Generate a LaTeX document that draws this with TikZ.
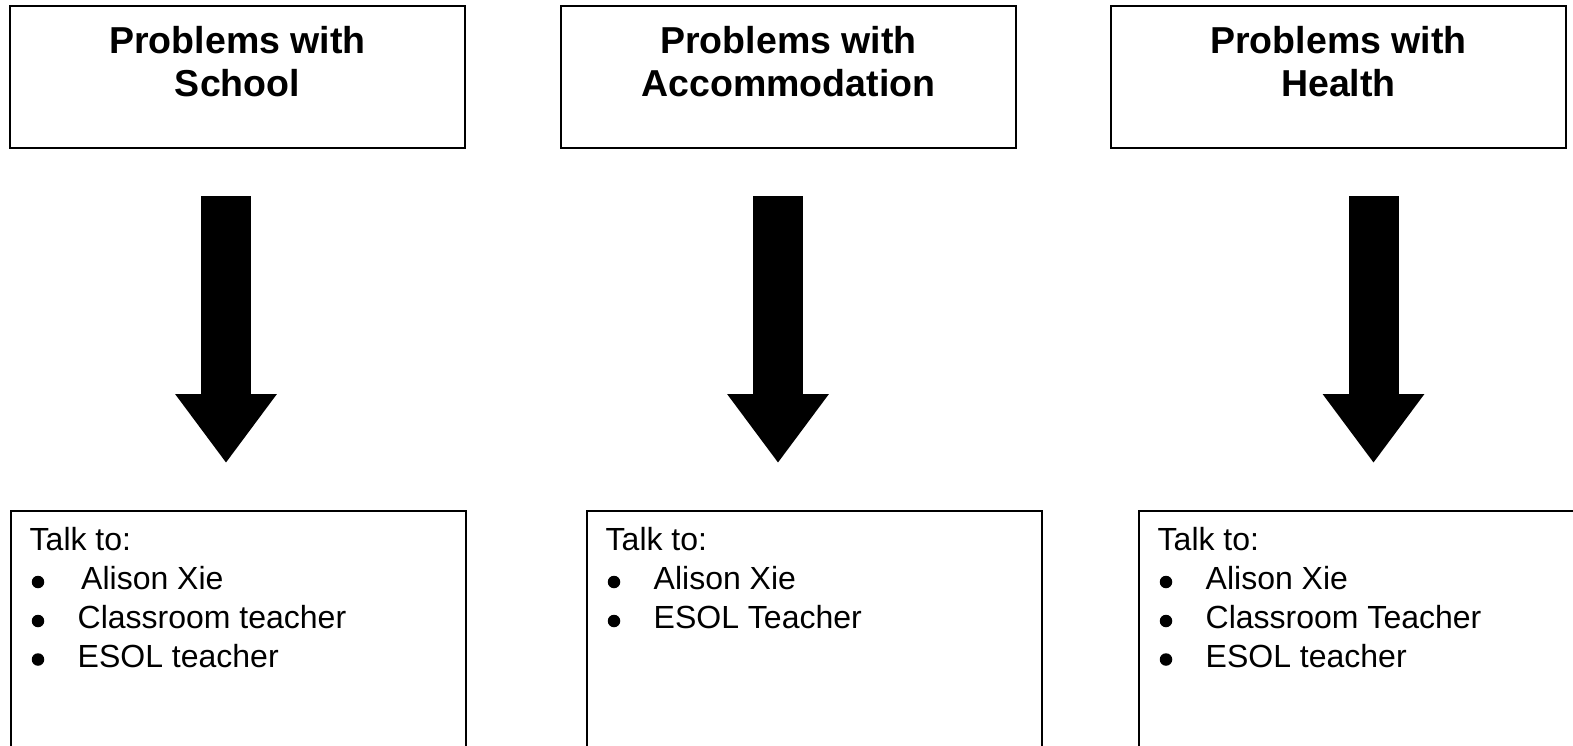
\documentclass[tikz,border=0pt]{standalone}
\usepackage{fontspec}
\setmainfont{Liberation Sans}
\usetikzlibrary{arrows.meta}
\begin{document}
\begin{tikzpicture}[x=1pt,y=-1pt,
  frame/.style={draw=black, line width=2.4pt, rectangle, inner sep=0pt},
  headbox/.style={frame, minimum width=455pt, minimum height=142pt},
  listbox/.style={frame, anchor=north west, minimum width=455pt, minimum height=300pt},
  titletext/.style={font=\fontsize{37.5}{43}\selectfont\bfseries, align=center, inner sep=0pt, anchor=base},
  bodytext/.style={font=\fontsize{32}{38.8}\selectfont, inner sep=0pt, anchor=base west},
  dot/.style={circle, fill=black, inner sep=0pt, minimum size=12.5pt},
  bigarrow/.style={line width=50pt, -{Triangle[length=69pt,width=97pt]}}]
\useasboundingbox (0,0) rectangle (1573,745);
\clip (0,0) rectangle (1573,745);
\fill[white] (0,0) rectangle (1573,745);

% top boxes
\node[headbox] (top1) at (237.5,77) {};
\node[headbox] (top2) at (788.5,77) {};
\node[headbox] (top3) at (1338.5,77) {};
\node[titletext] (t1) at (237.5,96.5) {Problems with\\School};
\node[titletext] (t2) at (788.5,96.5) {Problems with\\Accommodation};
\node[titletext] (t3) at (1338.5,96.5) {Problems with\\Health};

% bottom boxes
\node[listbox] (bot1) at (10,509.5) {};
\node[listbox] (bot2) at (586,509.5) {};
\node[listbox, minimum width=500pt] (bot3) at (1138,509.5) {};

% arrows
\coordinate (a1s) at (226,196);   \coordinate (a1e) at (226,463);
\coordinate (a2s) at (778,196);   \coordinate (a2e) at (778,463);
\coordinate (a3s) at (1373.5,196); \coordinate (a3e) at (1373.5,463);
\draw[bigarrow] (a1s) -- (a1e);
\draw[bigarrow] (a2s) -- (a2e);
\draw[bigarrow] (a3s) -- (a3e);

% list 1
\node[bodytext] (k1) at (29.5,550) {Talk to:};
\node[dot] (d11) at (38,582) {};
\node[bodytext] (i11) at (81,589.5) {Alison Xie};
\node[dot] (d12) at (38,621) {};
\node[bodytext] (i12) at (77.5,628.5) {Classroom teacher};
\node[dot] (d13) at (38,659.5) {};
\node[bodytext] (i13) at (77.5,667) {ESOL teacher};

% list 2
\node[bodytext] (k2) at (605.5,550) {Talk to:};
\node[dot] (d21) at (614,582) {};
\node[bodytext] (i21) at (653.5,589.5) {Alison Xie};
\node[dot] (d22) at (614,621) {};
\node[bodytext] (i22) at (653.5,628.5) {ESOL Teacher};

% list 3
\node[bodytext] (k3) at (1157.5,550) {Talk to:};
\node[dot] (d31) at (1166,582) {};
\node[bodytext] (i31) at (1205.5,589.5) {Alison Xie};
\node[dot] (d32) at (1166,621) {};
\node[bodytext] (i32) at (1205.5,628.5) {Classroom Teacher};
\node[dot] (d33) at (1166,659.5) {};
\node[bodytext] (i33) at (1205.5,667) {ESOL teacher};
\end{tikzpicture}
\end{document}
